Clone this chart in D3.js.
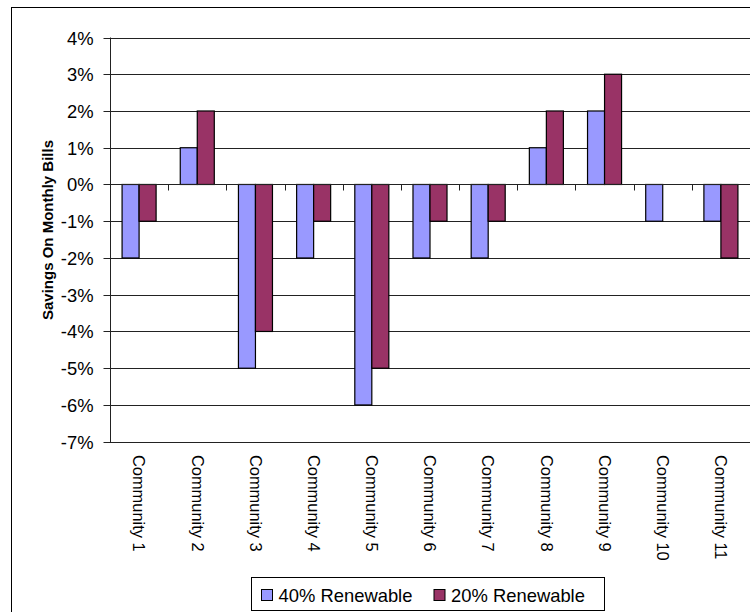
<!DOCTYPE html>
<html>
<head>
<meta charset="utf-8">
<script src="https://cdn.jsdelivr.net/npm/d3@7"></script>
<style>
  html, body { margin: 0; padding: 0; background: #fff; }
  svg { display: block; font-family: "Liberation Sans", Arial, sans-serif; }
</style>
</head>
<body>
<svg id="chart" width="750" height="612"></svg>
<script>
const categories = ["Community 1","Community 2","Community 3","Community 4","Community 5","Community 6","Community 7","Community 8","Community 9","Community 10","Community 11"];
const seriesNames = ["40% Renewable", "20% Renewable"];
const renew40 = [-2, 1, -5, -2, -6, -2, -2, 1, 2, -1, -1];
const renew20 = [-1, 2, -4, -1, -5, -1, -1, 2, 3, 0, -2];
const yTicks = [4, 3, 2, 1, 0, -1, -2, -3, -4, -5, -6, -7];
const colors = ["#9999FF", "#993366"];
const yTitle = "Savings On Monthly Bills";

const svg = d3.select("#chart");

// outer chart frame (cropped at right/bottom in the reference)
svg.append("rect").attr("x", 11.5).attr("y", 7.5).attr("width", 800).attr("height", 700)
  .attr("fill", "none").attr("stroke", "#000").attr("stroke-width", 1);

const plot = { left: 110, right: 750, top: 37.5, bottom: 441.7 };

const y = d3.scaleLinear().domain([-7, 4]).range([plot.bottom, plot.top]);
const x0 = d3.scaleBand().domain(categories).range([plot.left, plot.right]).padding(0);
const x1 = d3.scaleBand().domain(seriesNames).range([0, x0.bandwidth()]).paddingInner(0).paddingOuter(0.71);

// gridlines
svg.append("g").selectAll("line").data(yTicks).join("line")
  .attr("x1", plot.left).attr("x2", plot.right)
  .attr("y1", d => Math.round(y(d)) + 0.5).attr("y2", d => Math.round(y(d)) + 0.5)
  .attr("stroke", "#222").attr("stroke-width", 1);

// y axis
const yAxis = d3.axisLeft(y).tickValues(yTicks).tickSize(7).tickFormat(d => d + "%");
const yg = svg.append("g").attr("transform", `translate(${plot.left + 0.5},0)`).call(yAxis);
yg.select(".domain").remove();
yg.selectAll(".tick").attr("transform", d => `translate(0,${Math.round(y(d)) + 0.5})`);
yg.selectAll(".tick line").attr("stroke", "#222");
yg.selectAll(".tick text").attr("x", -17).attr("dy", "0.35em")
  .attr("font-size", "18.4px").attr("fill", "#000")
  .attr("font-family", "'Liberation Sans', Arial, sans-serif");
svg.append("line").attr("x1", plot.left + 0.5).attr("x2", plot.left + 0.5)
  .attr("y1", plot.top).attr("y2", plot.bottom + 0.5).attr("stroke", "#222");

// bars
const data = categories.map((c, i) => ({ c, vals: [renew40[i], renew20[i]] }));
const groups = svg.append("g").selectAll("g").data(data).join("g")
  .attr("transform", d => `translate(${x0(d.c)},0)`);
groups.selectAll("rect").data(d => d.vals.map((v, j) => ({ v, s: seriesNames[j], j })))
  .join("rect")
  .filter(d => d.v !== 0)
  .attr("x", d => x1(d.s))
  .attr("width", x1.bandwidth())
  .attr("y", d => y(Math.max(0, d.v)))
  .attr("height", d => Math.abs(y(d.v) - y(0)))
  .attr("fill", d => colors[d.j])
  .attr("stroke", "#000").attr("stroke-width", 1.2);

// category axis at zero
const zeroY = Math.round(y(0)) + 0.5;
svg.append("line").attr("x1", plot.left).attr("x2", plot.right).attr("y1", zeroY).attr("y2", zeroY)
  .attr("stroke", "#222");
svg.append("g").selectAll("line").data(categories.slice(1)).join("line")
  .attr("x1", d => Math.round(x0(d)) + 0.5).attr("x2", d => Math.round(x0(d)) + 0.5)
  .attr("y1", zeroY).attr("y2", zeroY + 6).attr("stroke", "#222");

// category labels (rotated, reading top to bottom)
svg.append("g").selectAll("text").data(categories).join("text")
  .attr("transform", d => `translate(${x0(d) + x0.bandwidth() / 2},455) rotate(90)`)
  .attr("text-anchor", "start").attr("dy", "0.35em")
  .attr("font-size", "16.4px").attr("fill", "#000")
  .text(d => d);

// y title
svg.append("text").attr("transform", "translate(53,230) rotate(-90)")
  .attr("text-anchor", "middle").attr("font-weight", "bold").attr("font-size", "15px")
  .attr("fill", "#000").text(yTitle);

// legend
const lg = svg.append("g");
lg.append("rect").attr("x", 251.5).attr("y", 577.5).attr("width", 353).attr("height", 33)
  .attr("fill", "#fff").attr("stroke", "#000").attr("stroke-width", 1);
const legendX = [261, 433.5];
seriesNames.forEach((s, i) => {
  lg.append("rect").attr("x", legendX[i] + 0.5).attr("y", 589.5).attr("width", 11).attr("height", 11)
    .attr("fill", colors[i]).attr("stroke", "#000").attr("stroke-width", 1);
  lg.append("text").attr("x", legendX[i] + 17.5).attr("y", 602.3)
    .attr("font-size", "18.4px").attr("fill", "#000").text(s);
});
</script>
</body>
</html>
